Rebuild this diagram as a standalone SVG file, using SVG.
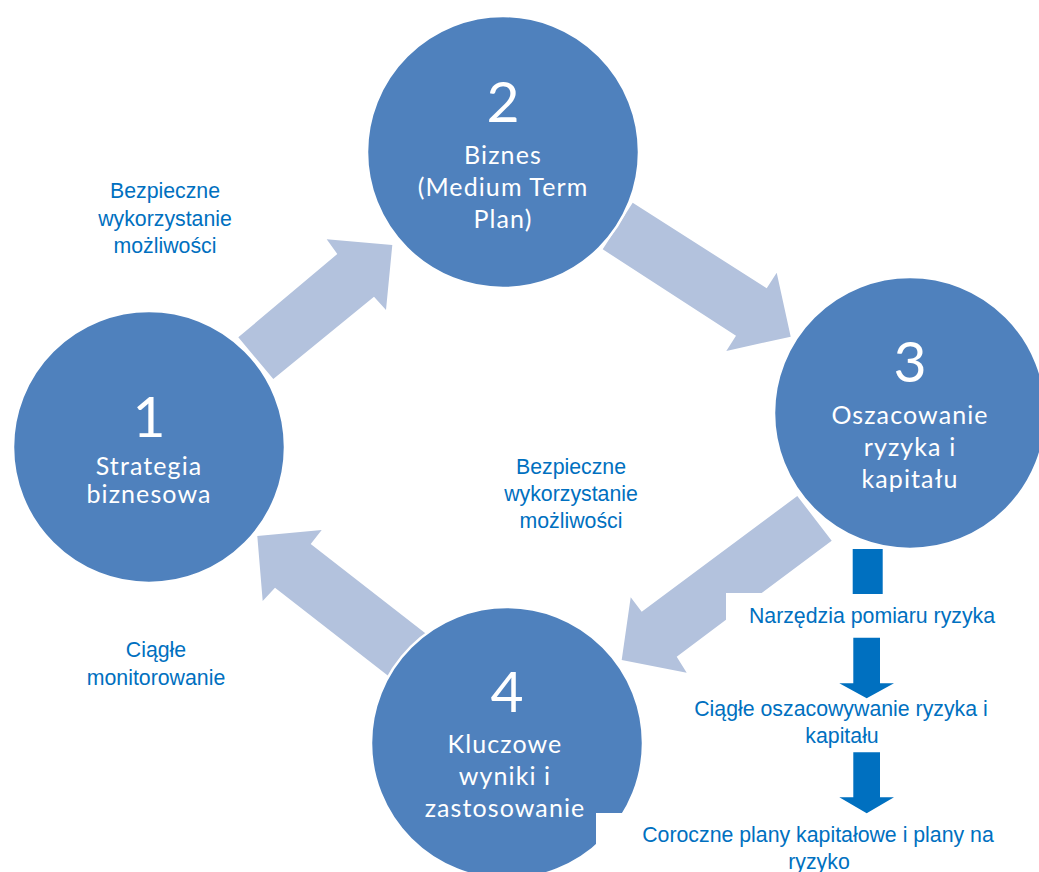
<svg xmlns="http://www.w3.org/2000/svg" width="1039" height="872" viewBox="0 0 1039 872">
<style>
.bg{fill:#ffffff}
.arrow{fill:#B3C2DD}
.circ{fill:#4F81BD;stroke:#ffffff;stroke-width:2.5}
.num{font-family:Lato,"Open Sans",sans-serif;font-size:57px;fill:#ffffff;text-anchor:middle}
.ctext{font-family:Lato,"Open Sans",sans-serif;font-size:25px;letter-spacing:1.1px;fill:#ffffff;text-anchor:middle}
.lbl{font-family:"Liberation Sans",Arial,sans-serif;font-size:21.3px;fill:#0070C0;text-anchor:middle}
.blue{fill:#0070C0}
.mask{fill:#ffffff}
</style>
<rect class="bg" x="0" y="0" width="1039" height="872"/>
<g id="connectors">
<polygon class="arrow" points="238.3,337.3 337.3,254 326.7,239.3 392.3,245 386,310 374,296.7 273.3,379"/>
<polygon class="arrow" points="632.7,202.7 766.7,288.3 776.7,272.7 790.7,336.7 726.3,350.9 736,335.7 602.7,249.3"/>
<polygon class="arrow" points="797.3,496 641.7,611.7 630.7,597.3 621.7,660 686.7,672.7 676.7,656.7 831.7,540.7"/>
<polygon class="arrow" points="429.2,636.3 310.7,544 321.7,530 257.3,536 262.7,601 275,587.7 393.5,680"/>
</g>
<g id="node1">
<circle class="circ" cx="149" cy="447" r="136"/>
<text class="num" x="149" y="437">1</text>
<text class="ctext" x="149" y="475">Strategia</text>
<text class="ctext" x="149" y="503">biznesowa</text>
</g>
<g id="node2">
<circle class="circ" cx="503" cy="152" r="136"/>
<text class="num" x="503" y="122">2</text>
<text class="ctext" x="503" y="164">Biznes</text>
<text class="ctext" x="503" y="196">(Medium Term</text>
<text class="ctext" x="503" y="228">Plan)</text>
</g>
<g id="node3">
<circle class="circ" cx="910" cy="413" r="136"/>
<text class="num" x="910" y="382">3</text>
<text class="ctext" x="910" y="424">Oszacowanie</text>
<text class="ctext" x="910" y="456">ryzyka i</text>
<text class="ctext" x="910" y="488">kapitału</text>
</g>
<g id="node4">
<circle class="circ" cx="507" cy="743" r="136"/>
<text class="num" x="507" y="712">4</text>
<text class="ctext" x="505" y="753">Kluczowe</text>
<text class="ctext" x="505" y="785">wyniki i</text>
<text class="ctext" x="505" y="817">zastosowanie</text>
</g>
<g id="label-top">
<text class="lbl" x="165" y="198">Bezpieczne</text>
<text class="lbl" x="165" y="226">wykorzystanie</text>
<text class="lbl" x="165" y="253">możliwości</text>
</g>
<g id="label-middle">
<text class="lbl" x="571" y="474">Bezpieczne</text>
<text class="lbl" x="571" y="501">wykorzystanie</text>
<text class="lbl" x="571" y="528">możliwości</text>
</g>
<g id="label-monitor">
<text class="lbl" x="156" y="657">Ciągłe</text>
<text class="lbl" x="156" y="685">monitorowanie</text>
</g>
<g id="box-narzedzia">
<rect class="mask" x="726" y="593" width="313" height="42"/>
<text class="lbl" x="872" y="623">Narzędzia pomiaru ryzyka</text>
</g>
<g id="box-ciagle">
<text class="lbl" x="841" y="716">Ciągłe oszacowywanie ryzyka i</text>
<text class="lbl" x="842" y="743">kapitału</text>
</g>
<g id="box-coroczne">
<rect class="mask" x="596" y="813" width="443" height="59"/>
<text class="lbl" x="818" y="842">Coroczne plany kapitałowe i plany na</text>
<text class="lbl" x="819" y="869">ryzyko</text>
</g>
<g id="flow-arrows">
<rect class="blue" x="852.7" y="549" width="30" height="45"/>
<polygon class="blue" points="853.3,637.7 880,637.7 880,683.3 894,683.3 866.7,698.3 839.3,683.3 853.3,683.3"/>
<polygon class="blue" points="853.3,752.3 880,752.3 880,797.3 894,797.3 866.7,813.3 839.3,797.3 853.3,797.3"/>
</g>
</svg>
